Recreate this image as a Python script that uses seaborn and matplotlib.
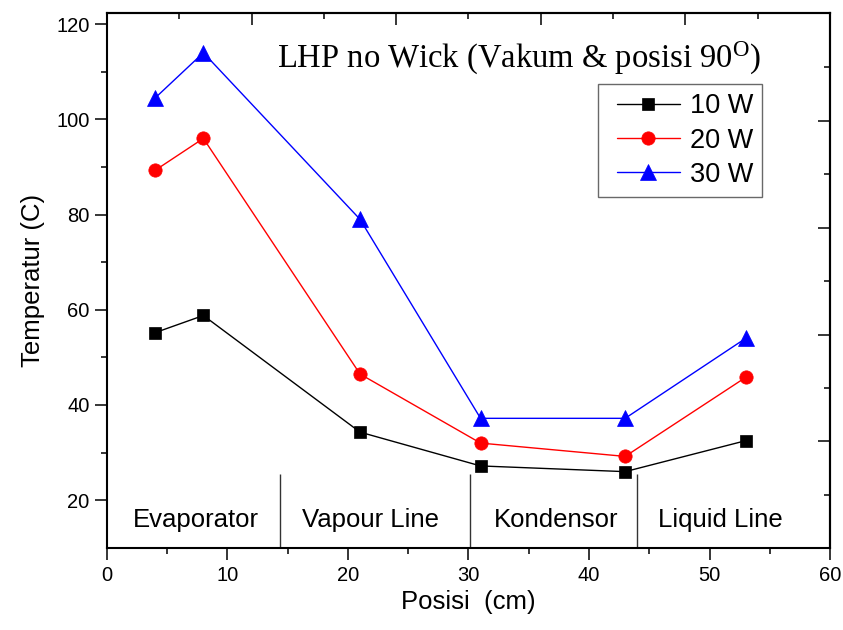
import numpy as np
import pandas as pd
import seaborn as sns
import matplotlib
matplotlib.use("Agg")
import matplotlib.pyplot as plt
from matplotlib.ticker import FixedLocator, NullFormatter
from matplotlib.legend_handler import HandlerLine2D
from matplotlib.lines import Line2D

# ---- data ----
positions = [4, 8, 21, 31, 43, 53]
temp_10w = [55.2, 58.8, 34.3, 27.2, 26.0, 32.5]
temp_20w = [89.3, 96.0, 46.5, 32.0, 29.2, 45.8]
temp_30w = [104.5, 114.0, 79.0, 37.2, 37.2, 54.0]
series_labels = ["10 W", "20 W", "30 W"]

section_names = ["Evaporator", "Vapour Line", "Kondensor", "Liquid Line"]
section_centers = [7.37, 21.9, 37.3, 50.87]
section_bounds = [14.35, 30.1, 44.0]

x_major = [0, 10, 20, 30, 40, 50, 60]
y_major = [20, 40, 60, 80, 100, 120]

df = pd.DataFrame({
    "Posisi": positions * 3,
    "Temperatur": temp_10w + temp_20w + temp_30w,
    "Daya": [series_labels[0]] * 6 + [series_labels[1]] * 6 + [series_labels[2]] * 6,
})

sns.set_theme(style="ticks")
plt.rcParams["font.family"] = ["Liberation Sans", "DejaVu Sans"]
plt.rcParams["mathtext.fontset"] = "custom"
plt.rcParams["mathtext.rm"] = "Liberation Serif"
plt.rcParams["mathtext.it"] = "Liberation Serif:italic"
for k in ["text.color", "axes.labelcolor", "xtick.color", "ytick.color", "axes.edgecolor"]:
    plt.rcParams[k] = "black"

fig = plt.figure(figsize=(8.43, 6.30), dpi=100)
ax = fig.add_axes([0.1269, 0.1297, 0.8577, 0.8501])

palette = {"10 W": "#000000", "20 W": "#ff0000", "30 W": "#0000ff"}
markers = {"10 W": "s", "20 W": "o", "30 W": "^"}
sns.lineplot(data=df, x="Posisi", y="Temperatur", hue="Daya", style="Daya",
             palette=palette, markers=markers, dashes=False, sort=False,
             estimator=None, linewidth=1.0, markersize=10, ax=ax, legend=True)

msize = {"10 W": 8.8, "20 W": 9.6, "30 W": 11.0}
for line in ax.lines:
    c = line.get_color()
    line.set_markeredgecolor(c)
    line.set_markerfacecolor(c)
    line.set_markeredgewidth(0.5)

handles, labels = ax.get_legend_handles_labels()
for h, l in zip(handles, labels):
    if l in msize:
        h.set_markersize(msize[l])
        h.set_markeredgecolor(h.get_color())
        h.set_markerfacecolor(h.get_color())
for line, l in zip(ax.lines[:3], series_labels):
    line.set_markersize(msize[l])
if ax.get_legend() is not None:
    ax.get_legend().remove()
leg = ax.legend(handles, labels, loc="upper right", bbox_to_anchor=(0.906, 0.866),
                fontsize=19.5, frameon=True, fancybox=False, edgecolor="#444444",
                handlelength=2.69, handletextpad=0.36, borderpad=0.33,
                labelspacing=0.3, borderaxespad=0,
                handler_map={Line2D: HandlerLine2D(xpad=0.35)})
leg.get_frame().set_linewidth(1.0)

ax.set_xlim(0, 60)
ax.set_ylim(9.9, 122.4)
ax.set_xticks(x_major)
ax.set_yticks(y_major)
ax.xaxis.set_minor_locator(FixedLocator([5, 15, 25, 35, 45, 55]))
ax.yaxis.set_minor_locator(FixedLocator([30, 50, 70, 90, 110]))
ax.tick_params(which="major", direction="out", length=8.5, width=1.1, labelsize=14.5, pad=4)
ax.tick_params(which="minor", direction="out", length=4.5, width=1.1)
ax.set_xlabel("Posisi  (cm)", fontsize=18.5, labelpad=4)
ax.set_ylabel("Temperatur (C)", fontsize=18.5, labelpad=8)
for s in ax.spines.values():
    s.set_linewidth(1.5)
    s.set_visible(True)
    s.set_color("black")

top = ax.secondary_xaxis("top")
top.xaxis.set_major_locator(FixedLocator([12, 24, 36, 48, 60]))
top.xaxis.set_minor_locator(FixedLocator([6, 18, 30, 42, 54]))
top.xaxis.set_major_formatter(NullFormatter())
top.tick_params(which="major", direction="in", length=8.5, width=1.1)
top.tick_params(which="minor", direction="in", length=4.5, width=1.1)
top.spines["top"].set_linewidth(1.5)

right = ax.secondary_yaxis("right")
right.yaxis.set_major_locator(FixedLocator([32.4, 54.75, 77.2, 99.7]))
right.yaxis.set_minor_locator(FixedLocator([21.05, 43.5, 66.0, 88.45, 110.9]))
right.yaxis.set_major_formatter(NullFormatter())
right.tick_params(which="major", direction="in", length=8.5, width=1.1)
right.tick_params(which="minor", direction="in", length=4.5, width=1.1)
right.spines["right"].set_linewidth(1.5)

ax.vlines(section_bounds, 9.9, 25.5, color="#333333", linewidth=1.0)
for name, cx in zip(section_names, section_centers):
    ax.text(cx, 14.3, name, ha="center", va="baseline", fontsize=18.5)

ax.text(14.08, 110.8, r"LHP no Wick (Vakum & posisi 90$^{\mathrm{O}}$)",
        ha="left", va="baseline", fontsize=23.5, family="Liberation Serif")

fig.savefig("out.png", dpi=100)
